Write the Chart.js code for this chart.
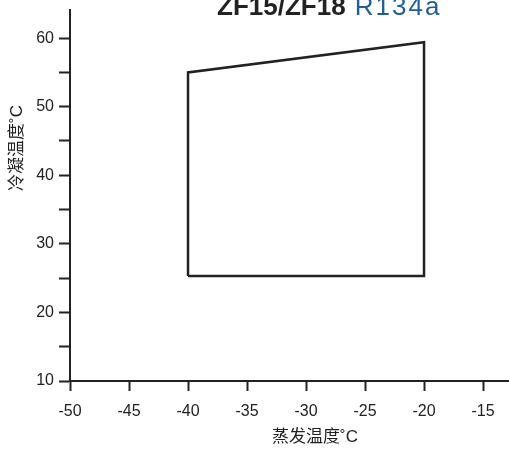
<!DOCTYPE html>
<html>
<head>
<meta charset="utf-8">
<script src="https://cdn.jsdelivr.net/npm/chart.js@4/dist/chart.umd.min.js"></script>
<style>
html,body{margin:0;padding:0;background:#fff;}
#wrap{width:509px;height:449px;position:relative;}
</style>
</head>
<body>
<div id="wrap"><canvas id="c" width="509" height="449"></canvas></div>
<script>
// Data
const evapTemps = [-40, -40, -20, -20, -40];
const condTemps = [25.3, 55.0, 59.4, 25.3, 25.3];
const xTickValues = [-50, -45, -40, -35, -30, -25, -20, -15];
const yTickValues = [10, 15, 20, 25, 30, 35, 40, 45, 50, 55, 60];
const yLabelValues = [10, 20, 30, 40, 50, 60];
const titleBold = 'ZF15/ZF18';
const titleRefrigerant = 'R134a';
const xTitle = '蒸发温度˚C';
const yTitle = '冷凝温度˚C';

const points = evapTemps.map((x, i) => ({x: x, y: condTemps[i]}));
const ink = '#222222';
const latin = '"Liberation Sans", Arial, sans-serif';
const cjk = '"Liberation Sans", "Noto Sans CJK SC", sans-serif';

const textPlugin = {
  id: 'texts',
  afterDraw(chart) {
    const ctx = chart.ctx;
    ctx.save();
    ctx.textBaseline = 'alphabetic';
    ctx.textAlign = 'left';
    ctx.font = 'bold 26px ' + latin;
    ctx.fillStyle = ink;
    ctx.fillText(titleBold, 217, 15);
    const w = ctx.measureText(titleBold + ' ').width;
    ctx.font = '26px ' + latin;
    ctx.fillStyle = '#1f5e9e';
    if ('letterSpacing' in ctx) ctx.letterSpacing = '2px';
    ctx.fillText(titleRefrigerant, 217 + w + 2, 15);
    if ('letterSpacing' in ctx) ctx.letterSpacing = '0px';
    // axis titles
    ctx.fillStyle = ink;
    ctx.font = '17px ' + cjk;
    ctx.textAlign = 'center';
    ctx.textBaseline = 'middle';
    ctx.fillText(xTitle, 315, 437);
    ctx.translate(17, 148);
    ctx.rotate(-Math.PI / 2);
    ctx.fillText(yTitle, 0, 0);
    ctx.restore();
  }
};

new Chart(document.getElementById('c'), {
  type: 'scatter',
  data: {
    datasets: [{
      data: points,
      showLine: true,
      fill: false,
      borderColor: ink,
      borderWidth: 2.5,
      pointRadius: 0,
      pointHoverRadius: 0,
      tension: 0
    }]
  },
  options: {
    responsive: false,
    animation: false,
    devicePixelRatio: 1,
    layout: {padding: {top: 10, left: 0, right: 0, bottom: 0}},
    plugins: {legend: {display: false}, tooltip: {enabled: false}, title: {display: false}},
    scales: {
      x: {
        type: 'linear',
        min: -50,
        max: -12.8,
        afterBuildTicks: (s) => { s.ticks = xTickValues.map(v => ({value: v})); },
        afterFit: (s) => { s.height = 68; s.paddingLeft = 0; s.paddingRight = 0; },
        border: {display: true, color: ink, width: 2},
        grid: {drawOnChartArea: false, drawTicks: true, tickLength: 10, tickColor: ink, tickWidth: 2},
        ticks: {
          color: ink,
          font: {family: latin, size: 16},
          padding: 11,
          maxRotation: 0,
          autoSkip: false,
          callback: (v) => String(v)
        }
      },
      y: {
        type: 'linear',
        min: 10,
        max: 64.1,
        afterBuildTicks: (s) => { s.ticks = yTickValues.map(v => ({value: v})); },
        afterFit: (s) => { s.width = 70; s.paddingTop = 0; s.paddingBottom = 0; },
        border: {display: true, color: ink, width: 2},
        grid: {drawOnChartArea: false, drawTicks: true, tickLength: 11, tickColor: ink, tickWidth: 2},
        ticks: {
          color: ink,
          font: {family: latin, size: 16},
          padding: 5,
          autoSkip: false,
          callback: (v) => yLabelValues.includes(v) ? String(v) : ''
        }
      }
    }
  },
  plugins: [textPlugin]
});
</script>
</body>
</html>
